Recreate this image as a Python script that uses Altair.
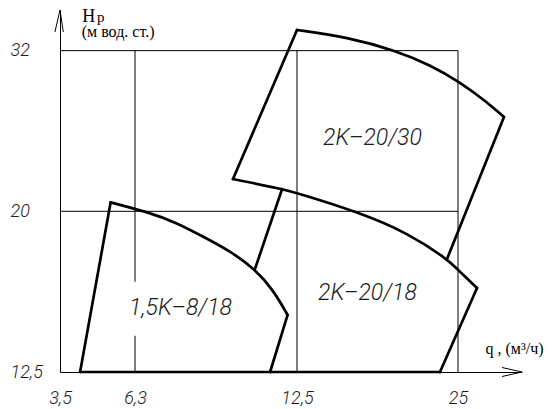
import altair as alt
import pandas as pd

# ---------------- axis values ----------------
q_ticks = [3.5, 6.3, 12.5, 25]
h_ticks = [12.5, 20, 32]
q_domain = [3.5, 6.3, 12.5, 25, 32.6]
h_domain = [12.5, 36.04]

# grid box (q from 3.5 to 25, H from 12.5 to 32)
grid_q = [6.3, 12.5, 25]
grid_h = [20, 32]

# ---------------- pump fields ----------------
# 1,5K-8/18
k15_left_q = [4.25, 5.39]
k15_left_h = [12.5, 20.53]
k15_top_q = [5.39, 6.87, 7.90, 8.91, 9.94, 10.89, 11.59, 12.14]
k15_top_h = [20.53, 19.92, 19.34, 18.57, 17.81, 16.89, 15.89, 14.77]
k15_right_q = [12.14, 11.47]
k15_right_h = [14.77, 12.5]
# common lower edge
base_q = [4.25, 23.60]
base_h = [12.5, 12.5]
# 2K-20/18
k18_link_q = [11.93, 10.89]
k18_link_h = [21.35, 16.89]
k18_right_q = [27.26, 23.60]
k18_right_h = [15.98, 12.5]
# boundary between 2K-20/30 and 2K-20/18
mid_q = [10.05, 11.93, 12.5, 17.24, 21.12, 24.15, 25.0, 27.26]
mid_h = [21.98, 21.35, 21.10, 19.96, 18.77, 17.40, 16.85, 15.98]
# 2K-20/30
k30_left_q = [10.05, 12.5]
k30_left_h = [21.98, 33.99]
k30_top_q = [12.5, 16.38, 20.26, 22.83, 25.24, 28.44, 30.46]
k30_top_h = [33.99, 33.30, 31.97, 30.68, 29.19, 27.53, 26.35]
k30_right_q = [30.46, 24.15]
k30_right_h = [26.35, 17.40]

# field labels
labels = ["1,5K–8/18", "2K–20/18", "2K–20/30"]
label_q = [8.04, 17.97, 18.36]
label_h = [15.07, 15.76, 24.76]
# blank box behind first label (q range, H range)
blank_q = [5.9, 10.2]
blank_h = [13.90, 16.28]

# unit annotation of H axis
h_sub_q, h_sub_h = 4.88, 34.80
h_unit_q, h_unit_h = 4.31, 33.30

# ---------------- tables ----------------
edges = [
    ("k15_left", "straight", k15_left_q, k15_left_h),
    ("k15_top", "curve", k15_top_q, k15_top_h),
    ("k15_right", "straight", k15_right_q, k15_right_h),
    ("base", "straight", base_q, base_h),
    ("k18_link", "straight", k18_link_q, k18_link_h),
    ("k18_right", "straight", k18_right_q, k18_right_h),
    ("mid", "curve", mid_q, mid_h),
    ("k30_left", "straight", k30_left_q, k30_left_h),
    ("k30_top", "curve", k30_top_q, k30_top_h),
    ("k30_right", "straight", k30_right_q, k30_right_h),
]
rows = []
for name, kind, qs, hs in edges:
    for i, (q, h) in enumerate(zip(qs, hs)):
        rows.append({"edge": name, "kind": kind, "idx": i, "q": q, "h": h})
edge_df = pd.DataFrame(rows)

vgrid = pd.DataFrame({"q": grid_q, "h0": [h_ticks[0]] * 3, "h1": [grid_h[-1]] * 3})
hgrid = pd.DataFrame({"h": grid_h, "q0": [q_ticks[0]] * 2, "q1": [q_ticks[-1]] * 2})
label_df = pd.DataFrame({"label": labels, "q": label_q, "h": label_h})
blank_df = pd.DataFrame({"q0": [blank_q[0]], "q1": [blank_q[1]], "h0": [blank_h[0]], "h1": [blank_h[1]]})
xarrow_df = pd.DataFrame({"q": [q_domain[-1]], "h": [h_domain[0]]})
yarrow_df = pd.DataFrame({"q": [q_domain[0]], "h": [h_domain[-1]]})
sub_df = pd.DataFrame({"q": [h_sub_q], "h": [h_sub_h], "t": ["p"]})
unit_df = pd.DataFrame({"q": [h_unit_q], "h": [h_unit_h], "t": ["(м вод. ст.)"]})

# ---------------- scales & axes ----------------
x_scale = alt.Scale(type="linear", domain=q_domain, range=[0, 75, 237, 398, 462], nice=False, zero=False)
y_scale = alt.Scale(type="log", domain=h_domain, nice=False)

tick_font = dict(labelFont="Roboto", labelFontStyle="italic", labelFontWeight=300,
                 labelFontSize=18, labelColor="#1a1a1a")

x_axis = alt.Axis(values=q_ticks, labelExpr="replace(toString(datum.value), '.', ',')",
                  ticks=False, tickSize=0, grid=False, domainColor="black", domainWidth=1,
                  labelPadding=17, labelFlush=False, labelOverlap=False, labelBaseline="top",
                  title="q ,  (м³/ч)", titleX=425, titleY=-19, titleAlign="left",
                  titleBaseline="alphabetic", titleAngle=0, titleFont="Liberation Serif",
                  titleFontSize=16, titleFontWeight="normal", titleColor="black", **tick_font)
y_axis = alt.Axis(values=h_ticks, labelExpr="replace(toString(datum.value), '.', ',')",
                  ticks=False, tickSize=0, grid=False, domainColor="black", domainWidth=1,
                  labelPadding=50, labelAlign="left", labelBaseline="middle",
                  labelFlush=False, labelOverlap=False,
                  title="H", titleX=21.7, titleY=11, titleAlign="left", titleBaseline="alphabetic",
                  titleAngle=0, titleFont="Liberation Serif", titleFontSize=18,
                  titleFontWeight="normal", titleColor="black", **tick_font)


def X(field):
    return alt.X(field, type="quantitative", scale=x_scale, axis=x_axis)


def Y(field):
    return alt.Y(field, type="quantitative", scale=y_scale, axis=y_axis)


grid_v_layer = alt.Chart(vgrid).mark_rule(color="black", strokeWidth=1).encode(
    x=X("q"), y=Y("h0"), y2="h1")
grid_h_layer = alt.Chart(hgrid).mark_rule(color="black", strokeWidth=1).encode(
    y=Y("h"), x=X("q0"), x2="q1")
blank_layer = alt.Chart(blank_df).mark_rect(color="white").encode(
    x=X("q0"), x2="q1", y=Y("h0"), y2="h1")

line_style = dict(color="black", strokeWidth=2.7, strokeCap="round", strokeJoin="round")
straight_layer = alt.Chart(edge_df).transform_filter("datum.kind == 'straight'").mark_line(
    **line_style).encode(x=X("q"), y=Y("h"), detail="edge:N", order="idx:Q")
curve_layer = alt.Chart(edge_df).transform_filter("datum.kind == 'curve'").mark_line(
    interpolate="basis", **line_style).encode(x=X("q"), y=Y("h"), detail="edge:N", order="idx:Q")

label_layer = alt.Chart(label_df).mark_text(
    font="Roboto", fontStyle="italic", fontWeight=300, fontSize=23, color="#1a1a1a",
    align="center", baseline="middle").encode(x=X("q"), y=Y("h"), text="label:N")

sub_layer = alt.Chart(sub_df).mark_text(
    font="Liberation Serif", fontSize=15, color="black", align="left", baseline="alphabetic"
).encode(x=X("q"), y=Y("h"), text="t:N")
unit_layer = alt.Chart(unit_df).mark_text(
    font="Liberation Serif", fontSize=16, color="black", align="left", baseline="alphabetic"
).encode(x=X("q"), y=Y("h"), text="t:N")

xarrow_layer = alt.Chart(xarrow_df).mark_point(
    shape="M-1,-0.225L0,0L-1,0.225", size=1600, filled=False, stroke="black",
    strokeWidth=1, opacity=1).encode(x=X("q"), y=Y("h"))
yarrow_layer = alt.Chart(yarrow_df).mark_point(
    shape="M-0.23,1L0,0L0.15,1", size=1936, filled=False, stroke="black",
    strokeWidth=1, opacity=1).encode(x=X("q"), y=Y("h"))

chart = alt.layer(
    grid_v_layer, grid_h_layer, blank_layer, straight_layer, curve_layer,
    label_layer, sub_layer, unit_layer, xarrow_layer, yarrow_layer
).properties(
    width=462, height=362,
    autosize=alt.AutoSizeParams(type="none"),
    padding={"left": 52, "top": 2, "right": 26, "bottom": 35},
    background="white",
).configure_view(stroke=None)

chart.save("out.html", embed_options={"renderer": "svg", "actions": False})
